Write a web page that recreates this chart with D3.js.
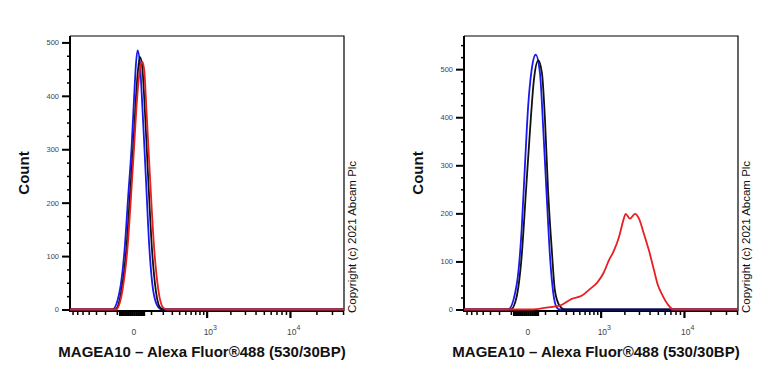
<!DOCTYPE html>
<html>
<head>
<meta charset="utf-8">
<script src="https://cdn.jsdelivr.net/npm/d3@7"></script>
<style>
  body { margin: 0; background: #fff; }
  svg { display: block; font-family: "Liberation Sans", Arial, sans-serif; }
</style>
</head>
<body>
<svg width="768" height="384"></svg>
<script>
	//channel range of the logicle-like x axis
var channelDomain = [-760, 41000];

	//histograms: [fluorescence, count]
var leftBlue = [[-760,0],[-134,0],[-79,36],[-48,117],[-29,211],[-11,305],[1,398],[10,461],[18,485],[30,461],[46,367],[66,242],[88,117],[116,36],[159,4],[191,0],[41000,0]];
var leftBlack = [[-760,0],[-113,0],[-68,36],[-38,117],[-20,211],[-3,305],[10,398],[20,448],[30,473],[43,455],[60,367],[81,242],[106,117],[137,36],[173,4],[207,0],[41000,0]];
var leftRed = [[-760,0],[-106,0],[-62,36],[-32,117],[-14,211],[1,305],[16,398],[30,448],[43,464],[55,448],[70,367],[94,242],[123,117],[159,36],[201,4],[241,0],[41000,0]];

var rightBlue = [[-760,0],[-120,0],[-60,53],[-32,164],[-14,303],[1,422],[18,498],[40,530],[66,491],[88,373],[113,234],[139,109],[168,32],[200,4],[234,0],[41000,0]];
var rightBlack = [[-760,0],[-100,0],[-62,25],[-32,109],[-9,248],[10,373],[30,477],[55,518],[79,491],[100,394],[123,248],[154,123],[182,39],[228,8],[290,0],[41000,0]];
var rightRed = [[-760,0],[25,0],[110,4],[230,8],[380,22],[550,29],[720,43],[900,56],[1100,77],[1280,102],[1480,122],[1710,150],[1970,189],[2070,199],[2340,189],[2690,199],[3000,189],[3440,157],[3950,122],[4520,81],[4960,53],[5680,29],[6500,11],[7600,0],[41000,0]];

var leftYMax = 512, rightYMax = 569;

	//tick values
var yMajor = [0, 100, 200, 300, 400, 500];
var yMinor = [25, 50, 75, 125, 150, 175, 225, 250, 275, 325, 350, 375, 425, 450, 475, 525, 550];
var xMajor = [1000, 10000];
var xMinor = [-700, -600, -500, -400, -300, -200, -100, 100, 200, 300, 400, 500, 600, 700, 800, 900,
              2000, 3000, 4000, 5000, 6000, 7000, 8000, 9000, 20000, 30000, 40000];
var xDense = [-80, -70, -60, -50, -40, -30, -20, -10, 0, 10, 20, 30, 40, 50];
var xLabels = [[0, "0", ""], [1000, "10", "3"], [10000, "10", "4"]];

var xTitle = "MAGEA10 \u2013 Alexa Fluor\u00AE488 (530/30BP)";
var yTitle = "Count";
var copyright = "Copyright (c) 2021 Abcam Plc";

var svg = d3.select("svg");

var panels = [
	{left: 70, right: 344, ymax: leftYMax, series: [leftBlue, leftBlack, leftRed]},
	{left: 464, right: 738, ymax: rightYMax, series: [rightBlue, rightBlack, rightRed]}
];
var colors = ["#1818f0", "#111111", "#e81e20"];
var plotTop = 36, zeroY = 309.5, axisY = 311;

panels.forEach(function(p) {
	var g = svg.append("g");

	var x = d3.scaleSymlog().constant(180).domain(channelDomain).range([p.left, p.right]);
	var y = d3.scaleLinear().domain([0, p.ymax]).range([zeroY, plotTop]);

	//frame
	g.append("path")
		.attr("d", "M" + p.left + "," + plotTop + "H" + p.right + "V" + axisY)
		.attr("fill", "none").attr("stroke", "#000").attr("stroke-width", 1.2);

	//y axis
	var yMin = g.append("g").attr("transform", "translate(" + p.left + ",0)")
		.call(d3.axisLeft(y).tickValues(yMinor.filter(function(v){ return v < p.ymax; })).tickSize(3).tickFormat(""));
	var yMaj = g.append("g").attr("transform", "translate(" + p.left + ",0)")
		.call(d3.axisLeft(y).tickValues(yMajor).tickSize(8).tickPadding(3).tickFormat(d3.format("d")));
	[yMin, yMaj].forEach(function(a) {
		a.select(".domain").remove();
		a.selectAll("line").attr("stroke", "#000").attr("stroke-width", 1.5);
	});
	yMaj.selectAll("line").attr("stroke-width", 2);
	yMaj.selectAll("text").attr("font-size", "7.5px").attr("fill", "#444").attr("font-family", "Liberation Sans, Arial, sans-serif");
	g.append("line").attr("x1", p.left).attr("x2", p.left).attr("y1", plotTop).attr("y2", axisY + 1)
		.attr("stroke", "#000").attr("stroke-width", 2);

	//x axis
	var xMin = g.append("g").attr("transform", "translate(0," + axisY + ")")
		.call(d3.axisBottom(x).tickValues(xMinor).tickSize(4).tickFormat(""));
	var xDen = g.append("g").attr("transform", "translate(0," + axisY + ")")
		.call(d3.axisBottom(x).tickValues(xDense).tickSize(5).tickFormat(""));
	var xMaj = g.append("g").attr("transform", "translate(0," + axisY + ")")
		.call(d3.axisBottom(x).tickValues(xMajor).tickSize(7).tickFormat(""));
	[xMin, xDen, xMaj].forEach(function(a) {
		a.select(".domain").remove();
		a.selectAll("line").attr("stroke", "#000").attr("stroke-width", 1.5);
	});
	xDen.selectAll("line").attr("stroke-width", 2.5);
	xMaj.selectAll("line").attr("stroke-width", 2.2);
	g.append("line").attr("x1", p.left).attr("x2", p.right).attr("y1", axisY).attr("y2", axisY)
		.attr("stroke", "#000").attr("stroke-width", 2);

	xLabels.forEach(function(l) {
		var t = g.append("text")
			.attr("x", l[2] ? x(l[0]) - 3 : x(l[0]))
			.attr("y", 335)
			.attr("text-anchor", l[2] ? "start" : "middle")
			.attr("font-size", "8.5px").attr("fill", "#444");
		t.append("tspan").text(l[1]);
		if (l[2]) t.append("tspan").attr("dy", -5).attr("font-size", "7px").text(l[2]);
	});

	//histograms
	var line = d3.line()
		.x(function(d) { return x(d[0]); })
		.y(function(d) { return y(d[1]); })
		.curve(d3.curveMonotoneX);

	p.series.forEach(function(s, i) {
		g.append("path")
			.attr("d", line(s))
			.attr("fill", "none")
			.attr("stroke", colors[i])
			.attr("stroke-width", 1.8)
			.attr("stroke-linejoin", "round");
	});

	//titles
	g.append("text")
		.attr("x", (p.left + p.right) / 2 - 5).attr("y", 357)
		.attr("text-anchor", "middle")
		.attr("font-size", "15px").attr("font-weight", "bold").attr("fill", "#111")
		.text(xTitle);
	g.append("text")
		.attr("transform", "translate(" + (p.left - 41) + ",173) rotate(-90)")
		.attr("text-anchor", "middle")
		.attr("font-size", "15px").attr("font-weight", "bold").attr("fill", "#111")
		.text(yTitle);
	g.append("text")
		.attr("transform", "translate(" + (p.right + 12) + ",313) rotate(-90)")
		.attr("text-anchor", "start")
		.attr("font-size", "11.5px").attr("fill", "#111")
		.text(copyright);
});
</script>
</body>
</html>
